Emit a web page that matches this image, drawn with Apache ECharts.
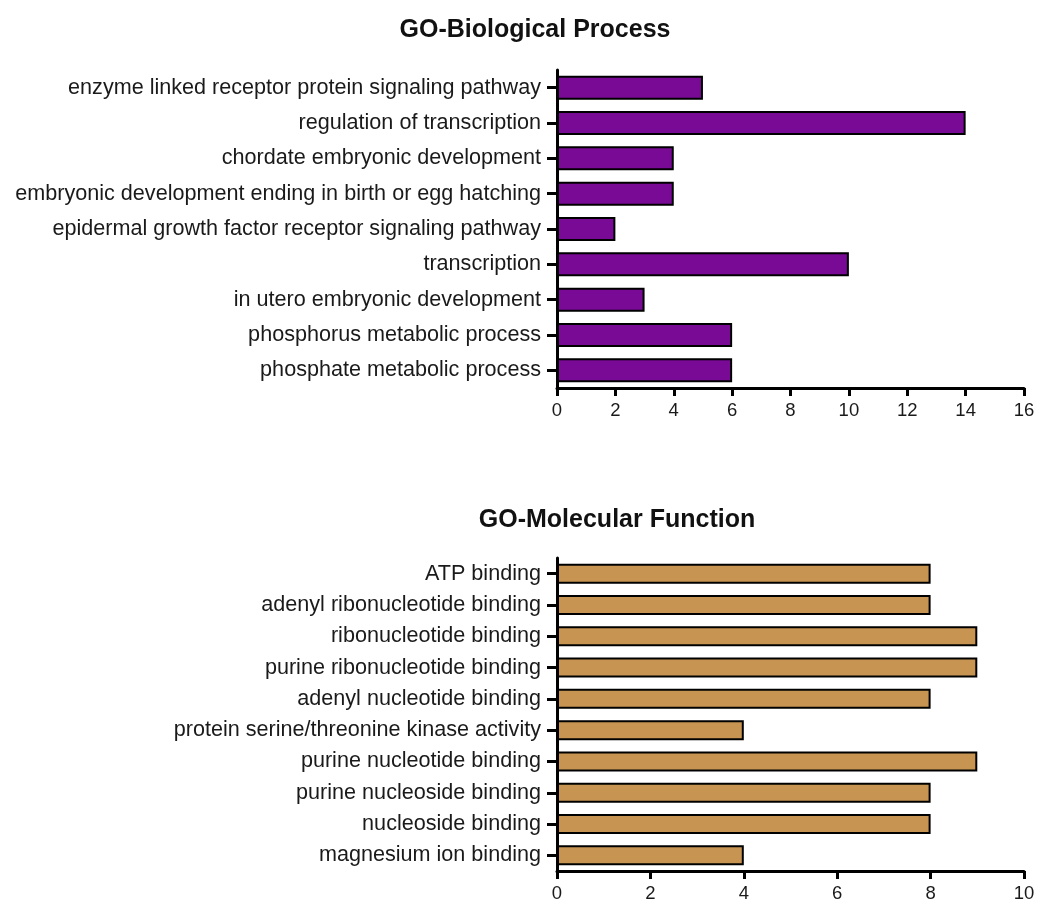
<!DOCTYPE html>
<html>
<head>
<meta charset="utf-8">
<script src="https://cdn.jsdelivr.net/npm/echarts@6/dist/echarts.min.js"></script>
<style>
  html, body { margin: 0; padding: 0; background: #fff; }
  #chart { width: 1041px; height: 906px; }
</style>
</head>
<body>
<div id="chart"></div>
<script>
// GO enrichment: gene counts per term
const bpTerms = [
  'enzyme linked receptor protein signaling pathway',
  'regulation of transcription',
  'chordate embryonic development',
  'embryonic development ending in birth or egg hatching',
  'epidermal growth factor receptor signaling pathway',
  'transcription',
  'in utero embryonic development',
  'phosphorus metabolic process',
  'phosphate metabolic process'
];
const bpCounts = [5, 14, 4, 4, 2, 10, 3, 6, 6];

const mfTerms = [
  'ATP binding',
  'adenyl ribonucleotide binding',
  'ribonucleotide binding',
  'purine ribonucleotide binding',
  'adenyl nucleotide binding',
  'protein serine/threonine kinase activity',
  'purine nucleotide binding',
  'purine nucleoside binding',
  'nucleoside binding',
  'magnesium ion binding'
];
const mfCounts = [8, 8, 9, 9, 8, 4, 9, 8, 8, 4];

const bpTicks = { min: 0, max: 16, interval: 2 };
const mfTicks = { min: 0, max: 10, interval: 2 };

const FONT = 'Liberation Sans, Arial, sans-serif';
const INK = '#1a1a1a';

function valueAxis(gridIndex, ticks) {
  return {
    type: 'value', gridIndex,
    min: ticks.min, max: ticks.max, interval: ticks.interval,
    axisLine: { show: true, lineStyle: { color: '#000', width: 3 } },
    axisTick: { show: true, length: 8, lineStyle: { color: '#000', width: 3 } },
    axisLabel: { color: INK, fontSize: 18.5, fontFamily: FONT, margin: 13 },
    splitLine: { show: false }
  };
}

function categoryAxis(gridIndex, terms) {
  return {
    type: 'category', gridIndex, data: terms, inverse: true,
    axisLine: { show: true, lineStyle: { color: '#000', width: 3 } },
    axisTick: { show: true, alignWithLabel: true, length: 10, lineStyle: { color: '#000', width: 3 } },
    axisLabel: { color: INK, fontSize: 21.6, fontFamily: FONT, margin: 16 }
  };
}

const chart = echarts.init(document.getElementById('chart'), null, { renderer: 'canvas' });
chart.setOption({
  backgroundColor: '#fff',
  animation: false,
  title: [
    { text: 'GO-Biological Process', left: 530, top: 13, textAlign: 'center',
      textStyle: { fontSize: 25, fontWeight: 'bold', color: '#111', fontFamily: FONT } },
    { text: 'GO-Molecular Function', left: 612, top: 503, textAlign: 'center',
      textStyle: { fontSize: 25, fontWeight: 'bold', color: '#111', fontFamily: FONT } }
  ],
  grid: [
    { left: 557, right: 17, top: 70, height: 318, containLabel: false },
    { left: 557, right: 17, top: 558, height: 313, containLabel: false }
  ],
  xAxis: [valueAxis(0, bpTicks), valueAxis(1, mfTicks)],
  yAxis: [categoryAxis(0, bpTerms), categoryAxis(1, mfTerms)],
  series: [
    { type: 'bar', xAxisIndex: 0, yAxisIndex: 0, data: bpCounts, barCategoryGap: '32%',
      itemStyle: { color: '#790a95', borderColor: '#000', borderWidth: 2 } },
    { type: 'bar', xAxisIndex: 1, yAxisIndex: 1, data: mfCounts, barCategoryGap: '36%',
      itemStyle: { color: '#c79452', borderColor: '#000', borderWidth: 2 } }
  ]
});
</script>
</body>
</html>
